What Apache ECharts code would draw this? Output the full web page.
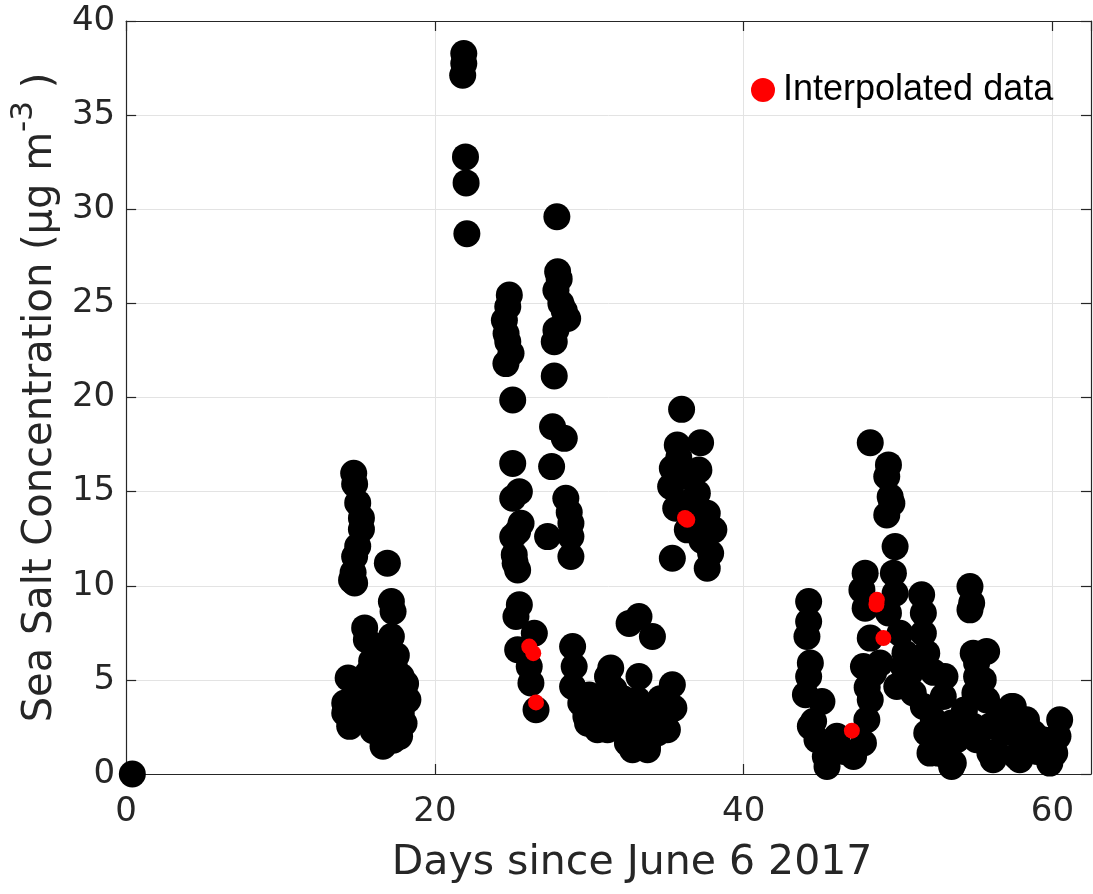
<!DOCTYPE html>
<html>
<head>
<meta charset="utf-8">
<script src="https://cdn.jsdelivr.net/npm/echarts@6/dist/echarts.min.js"></script>
<style>
html,body{margin:0;padding:0;background:#fff;}
#chart{width:1093px;height:894px;}
</style>
</head>
<body>
<div id="chart"></div>
<script>
// ---- data ----
const blackDays = [
  0.4,
  14.74,14.8,15.0,15.24,15.24,15.0,14.8,14.7,14.8,14.6,16.92,17.18,17.29,15.45,17.18,15.56,16.96,17.37,14.38,15.67,17.82,15.88,17.93,14.16,14.16,14.48,16.32,16.32,17.82,17.71,16.64,16.96,18.25,18.0,
  15.9,16.5,17.0,16.7,17.4,15.2,16.0,17.3,15.7,16.6,17.5,18.1,
  21.87,21.87,21.8,21.98,22.02,22.07,
  24.82,24.72,24.5,24.61,24.72,24.93,24.6,25.04,25.04,25.47,25.04,25.58,25.36,25.04,25.14,25.36,25.2,25.47,25.25,26.44,25.36,26.11,26.22,26.55,
  27.9,27.95,28.05,27.84,28.16,28.38,28.6,27.84,27.73,27.73,27.62,28.38,27.56,28.48,28.7,28.81,28.81,27.3,28.81,
  28.92,29.02,28.92,29.78,29.45,29.89,30.31,30.53,31.39,31.18,31.39,31.18,31.18,32.04,32.47,32.47,32.58,33.22,34.09,33.22,33.12,33.12,32.8,33.77,33.77,34.19,34.41,35.38,35.27,35.06,35.48,30.0,30.8,31.6,32.2,34.6,33.6,34.0,32.0,30.0,
  35.98,37.21,35.7,37.1,35.38,35.27,37.0,35.6,37.64,36.35,38.07,37.86,37.64,35.38,35.9,36.6,36.8,35.8,37.3,
  44.21,44.21,44.1,44.32,44.21,44.0,45.07,44.32,44.53,44.75,45.29,45.4,46.04,47.12,46.5,47.76,47.98,48.2,47.76,48.41,47.87,47.66,47.87,48.2,48.84,48.0,
  48.2,49.38,49.27,49.49,49.6,49.27,49.81,49.7,49.81,49.38,50.13,50.45,50.78,50.35,49.92,
  51.53,51.64,51.64,51.86,51.42,50.99,51.64,52.29,53.04,52.93,52.5,52.61,53.15,53.47,53.58,53.8,53.47,51.86,52.07,
  54.66,54.77,54.66,54.87,55.74,55.09,55.52,55.09,54.98,55.74,54.87,55.09,55.95,56.38,56.16,55.95,56.81,57.35,57.46,57.24,57.67,57.89,58.32,58.75,59.39,59.83,60.47,60.36,60.15,
  56.5,58.0,59.0,60.0,54.3,50.5,52.3
];
const blackValues = [
  0.0,
  15.98,15.4,14.4,13.6,13.0,12.1,11.55,10.7,10.15,10.3,11.2,9.16,8.63,7.76,7.3,7.13,6.24,5.7,5.1,5.36,5.18,4.65,4.3,3.77,3.24,2.53,3.94,3.06,3.24,2.0,1.47,2.53,3.94,2.7,
  6.0,5.0,4.5,3.5,3.8,4.0,2.3,1.8,3.2,6.8,6.3,4.8,
  38.27,37.74,37.12,32.78,31.4,28.7,
  25.44,24.82,24.1,23.4,22.96,22.35,21.8,19.87,16.5,15.0,14.65,13.32,12.88,12.6,11.64,10.84,11.2,8.99,8.37,7.48,6.6,5.71,4.83,3.41,
  29.6,26.68,26.3,25.7,25.0,24.6,24.2,23.58,22.96,21.14,18.45,17.83,16.33,14.65,13.9,13.32,12.61,12.61,11.55,
  6.77,5.71,4.65,3.06,3.77,2.7,3.24,2.35,5.63,5.18,3.94,2.88,2.35,3.06,2.0,1.65,8.0,8.37,7.3,5.18,3.94,2.53,1.29,1.29,1.47,3.06,2.18,4.74,3.41,2.35,3.5,4.2,4.0,4.5,4.0,4.0,3.0,2.2,2.5,2.9,
  19.37,17.6,17.48,16.15,16.24,15.27,14.92,14.12,13.85,12.97,12.97,11.73,10.93,11.46,15.8,14.5,13.5,16.8,12.4,
  9.16,8.1,7.3,5.89,5.18,4.21,3.85,2.53,2.8,1.82,0.93,0.4,2.0,0.93,1.2,1.65,2.88,3.94,5.71,5.36,8.81,9.78,10.67,7.22,5.89,4.6,
  17.6,16.42,15.8,14.73,14.38,13.76,12.08,10.67,9.6,8.55,7.48,6.42,5.36,5.71,4.65,
  9.52,8.55,7.48,6.42,5.89,4.3,3.59,2.88,5.18,4.12,1.82,1.11,0.93,0.4,0.58,1.82,2.71,2.18,1.11,
  9.96,9.08,8.72,6.42,6.51,5.18,5.0,5.89,4.3,3.94,2.53,1.82,1.11,1.11,0.76,2.53,2.18,3.59,3.59,2.53,0.93,0.76,2.88,2.18,1.82,0.58,2.88,2.0,1.11,
  3.0,1.6,1.2,1.8,3.4,4.8,5.4
];
const redDays   = [26.11, 26.37, 26.55, 36.2, 36.35, 47.01, 48.63, 48.6, 49.05];
const redValues = [6.77, 6.42, 3.8, 13.6, 13.5, 2.3, 9.25, 9.0, 7.22];

const xTicks = [0, 20, 40, 60];
const yTicks = [0, 5, 10, 15, 20, 25, 30, 35, 40];
const legendLabel = 'Interpolated data';
const xTitle = 'Days since June 6 2017';
const yTitleMain = 'Sea Salt Concentration (μg m';
const yTitleSup = '-3';
const yTitleEnd = ' )';

// ---- chart ----
const zip = (a, b) => a.map((v, i) => [v, b[i]]);
const axisColor = '#262626';
const gridColor = '#e3e3e3';
const font = 'DejaVu Sans';

function xAxisCfg(pos, labels) {
  return {
    type: 'value', position: pos, min: 0, max: 62.5, interval: 20,
    axisLine: { show: true, onZero: false, lineStyle: { color: axisColor, width: 1.2 } },
    axisTick: { show: true, inside: true, length: 10, lineStyle: { color: axisColor, width: 1.2 } },
    splitLine: { show: labels, lineStyle: { color: gridColor, width: 1 } },
    axisLabel: {
      show: labels, fontSize: 34, fontFamily: font, color: axisColor, margin: 21,
      formatter: v => (xTicks.indexOf(v) >= 0 ? String(v) : ''),
      showMaxLabel: false
    }
  };
}
function yAxisCfg(pos, labels) {
  return {
    type: 'value', position: pos, min: yTicks[0], max: yTicks[yTicks.length - 1], interval: 5,
    axisLine: { show: true, onZero: false, lineStyle: { color: axisColor, width: 1.2 } },
    axisTick: { show: true, inside: true, length: 10, lineStyle: { color: axisColor, width: 1.2 } },
    splitLine: { show: labels, lineStyle: { color: gridColor, width: 1 } },
    axisLabel: { show: labels, fontSize: 34, fontFamily: font, color: axisColor, margin: 11 }
  };
}

const xa0 = xAxisCfg('bottom', true);
xa0.name = xTitle;
xa0.nameLocation = 'middle';
xa0.nameGap = 69;
xa0.nameTextStyle = { fontSize: 41, fontFamily: font, color: axisColor, padding: [0, 0, 0, 47] };

const ya0 = yAxisCfg('left', true);
ya0.name = '{a|' + yTitleMain + '}{s|' + yTitleSup + '}{a|' + yTitleEnd + '}';
ya0.nameLocation = 'middle';
ya0.nameGap = 51;
ya0.nameTextStyle = {
  rich: {
    a: { fontSize: 40, fontFamily: font, color: axisColor, lineHeight: 66 },
    s: { fontSize: 31, fontFamily: font, color: axisColor, lineHeight: 31, verticalAlign: 'top' }
  }
};

const chart = echarts.init(document.getElementById('chart'), null, { renderer: 'canvas' });
chart.setOption({
  animation: false,
  backgroundColor: '#ffffff',
  grid: { left: 124, right: 2, top: 21, bottom: 120, containLabel: false },
  xAxis: [xa0, xAxisCfg('top', false)],
  yAxis: [ya0, yAxisCfg('right', false)],
  legend: {
    data: [legendLabel], left: 751, top: 72, icon: 'circle',
    itemWidth: 24, itemHeight: 24, padding: 0,
    textStyle: { fontSize: 36, fontFamily: 'Liberation Sans', color: '#000000', padding: [0, 0, 0, 3] }
  },
  series: [
    {
      name: 'Measured', type: 'scatter', xAxisIndex: 0, yAxisIndex: 0,
      data: zip(blackDays, blackValues), symbol: 'circle', symbolSize: 27,
      itemStyle: { color: '#000000', opacity: 1 }, emphasis: { disabled: true }, z: 2
    },
    {
      name: legendLabel, type: 'scatter', xAxisIndex: 0, yAxisIndex: 0,
      data: zip(redDays, redValues), symbol: 'circle', symbolSize: 16,
      itemStyle: { color: '#ff0000', opacity: 1 }, emphasis: { disabled: true }, z: 3
    }
  ]
});
</script>
</body>
</html>
